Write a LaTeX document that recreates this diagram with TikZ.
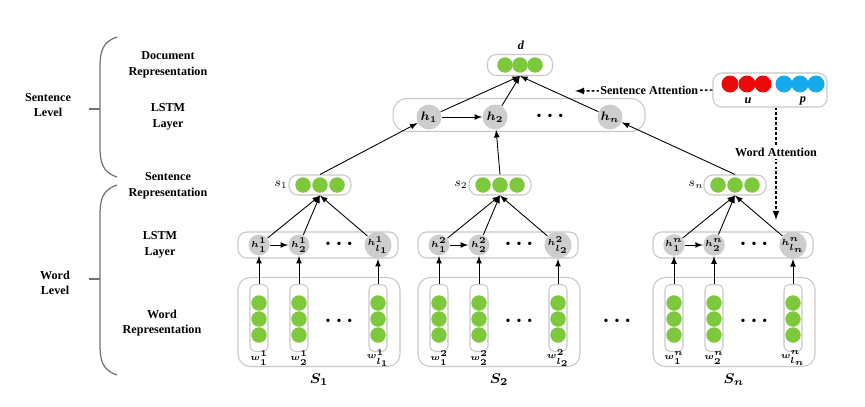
\documentclass[tikz,border=0pt]{standalone}
\usepackage{fontspec}
\setmainfont{Liberation Serif}
\usepackage{tikz}
\usetikzlibrary{arrows,calc}
\definecolor{dotgreen}{RGB}{125,200,60}
\definecolor{dotred}{RGB}{235,10,10}
\definecolor{dotblue}{RGB}{20,170,235}
\definecolor{cellgray}{RGB}{205,205,205}
\definecolor{boxgray}{RGB}{200,200,200}
\newcommand{\dotsrow}{\textbullet\hspace{0.12cm}\textbullet\hspace{0.12cm}\textbullet}
\tikzset{
  layer/.style={draw=boxgray, rounded corners=5pt, line width=0.6pt, inner sep=0pt},
  gdot/.style={circle, fill=dotgreen, minimum size=0.31cm, inner sep=0pt},
  rdot/.style={gdot, fill=dotred, minimum size=0.34cm},
  bdot/.style={gdot, fill=dotblue, minimum size=0.34cm},
  hbig/.style={circle, fill=cellgray, minimum size=0.5cm, inner sep=0pt, font=\scriptsize\boldmath},
  hsmall/.style={circle, fill=cellgray, minimum size=0.36cm, inner sep=0pt, font=\tiny\boldmath},
  lbl/.style={font=\fontsize{6.9}{8.8}\selectfont\bfseries, align=center},
  sym/.style={font=\scriptsize\bfseries\itshape},
  att/.style={->, line width=0.8pt, dash pattern=on 1.6pt off 1.2pt},
}
\begin{document}
\begin{tikzpicture}[x=0.02cm, y=-0.02cm, >=latex, line width=0.5pt]
        \useasboundingbox (0,0) rectangle (865,406);
        % levels
        \draw[black!55, line width=0.7pt] (117,37) .. controls (102,42) and (100,52) .. (100,68) -- (100,146) .. controls (100,162) and (102,172) .. (117,177);
        \draw[black!55, line width=0.7pt] (100,109) -- (89,109);
        \draw[black!55, line width=0.7pt] (117,185) .. controls (102,190) and (100,200) .. (100,216) -- (100,344) .. controls (100,360) and (102,370) .. (117,375);
        \draw[black!55, line width=0.7pt] (100,279) -- (89,279);
        \node[lbl] (sentlevel) at (48,105) {Sentence\\Level};
        \node[lbl] (wordlevel) at (55,283) {Word\\Level};
        \node[lbl] (docrep) at (168,65) {Document\\Representation};
        \node[lbl] (sentlstm) at (168,117) {LSTM\\Layer};
        \node[lbl] (sentrep) at (168,186) {Sentence\\Representation};
        \node[lbl] (wordlstm) at (160,245) {LSTM\\Layer};
        \node[lbl] (wordrep) at (162,323) {Word\\Representation};
        % document
        \node[layer, minimum width=1.3cm, minimum height=0.42cm] (dbox) at (520,65) {};
        \node[gdot] (d1) at (505,65) {};
        \node[gdot] (d2) at (520,65) {};
        \node[gdot] (d3) at (535,65) {};
        \node[sym] (dlab) at (521,45) {d};
        % sentence lstm
        \node[layer, minimum width=5.04cm, minimum height=0.66cm, rounded corners=8pt] (hbox) at (519,115) {};
        \node[hbig] (h1) at (429,117) {$h_1$};
        \node[hbig] (h2) at (495,117) {$h_2$};
        \node[font=\footnotesize] (hdots) at (550,117) {\dotsrow};
        \node[hbig] (hn) at (610,117) {$h_n$};
        \draw[->] (h1) -- (h2);
        \draw[->] (h1) -- (dbox.south);
        \draw[->] (h2) -- (dbox.south);
        \draw[->] (hn) -- (dbox.south);
        % user and product
        \node[layer, minimum width=2.28cm, minimum height=0.68cm] (upbox) at (770,90) {};
        \node[rdot] (u1) at (730,84) {};
        \node[rdot] (u2) at (747,84) {};
        \node[rdot] (u3) at (763,84) {};
        \node[bdot] (p1) at (784,84) {};
        \node[bdot] (p2) at (800,84) {};
        \node[bdot] (p3) at (816,84) {};
        \node[sym] (ulab) at (748,101) {u};
        \node[sym] (plab) at (803,101) {p};
        \coordinate (satt) at (575,91);
        \coordinate (watt) at (776,220);
        \draw[att] (upbox.west) -- node[lbl, fill=white, inner sep=1pt, pos=0.46] (sattlab) {Sentence Attention} (satt);
        \draw[att] (upbox.south -| watt) -- node[lbl, fill=white, inner sep=1pt, pos=0.4] (wattlab) {Word Attention} (watt);
        % sentences
        \foreach \X/\k in {238/1, 418/2, 653/n} {
            \node[layer, minimum width=1.24cm, minimum height=0.4cm] (sb\k) at (\X+82,185) {};
            \node[gdot] at (\X+65,185) {};
            \node[gdot] at (\X+82,185) {};
            \node[gdot] at (\X+99,185) {};
            \node[font=\scriptsize] (slab\k) at (\X+43,185) {$s_{\k}$};
            \node[layer, minimum width=3.2cm, minimum height=0.52cm] (hl\k) at (\X+80,245) {};
            \node[font=\footnotesize] (hwdots\k) at (\X+101,245) {\dotsrow};
            \node[layer, minimum width=3.24cm, minimum height=1.78cm, rounded corners=7pt] (wb\k) at (\X+81,322) {};
            \node[font=\footnotesize] (wdots\k) at (\X+101,322) {\dotsrow};
            \node[font=\footnotesize\boldmath] (Slab\k) at (\X+81,380) {$S_{\k}$};
            \foreach \c/\cx/\sub in {1/21/1, 2/61/2, 3/140/{l_{\k}}} {
                \node[hsmall] (hw\k-\c) at (\X+\cx,245) {$h^{\k}_{\sub}$};
                \node[layer, rounded corners=3pt, minimum width=0.36cm, minimum height=1.34cm] (wc\k-\c) at (\X+\cx,318) {};
                \node[gdot] at (\X+\cx,303) {};
                \node[gdot] at (\X+\cx,319) {};
                \node[gdot] at (\X+\cx,335) {};
                \node[font=\tiny\boldmath] (wlab\k-\c) at (\X+\cx,358) {$w^{\k}_{\sub}$};
                \draw[->] (wc\k-\c) -- (hw\k-\c);
                \draw[->] (hw\k-\c) -- (sb\k.south);
            }
            \draw[->] (hw\k-1) -- (hw\k-2);
        }
        \node[font=\footnotesize] (sdots) at (617,322) {\dotsrow};
        \draw[->] (sb1.north) -- (h1);
        \draw[->] (sb2.north) -- (h2);
        \draw[->] (sbn.north) -- (hn);
    \end{tikzpicture}
\end{document}
